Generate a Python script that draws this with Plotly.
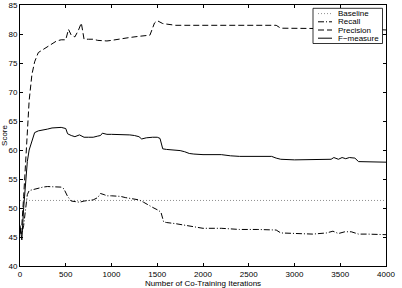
import plotly.graph_objects as go

# ---- data ----
baseline_x = [0, 4000]
baseline_y = [51.3, 51.3]

prec_x = [0, 20, 40, 60, 80, 100, 130, 160, 200, 250, 300, 350, 400, 450, 500, 530, 560, 600, 640, 670,
          700, 750, 800, 850, 900, 950, 1000, 1100, 1200, 1300, 1400, 1420, 1470, 1500, 1560, 1650, 1700,
          1800, 2000, 2200, 2400, 2600, 2800, 2850, 3000, 3200, 3400, 3600, 3800, 4000]
prec_y = [45.5, 47, 52, 58, 64, 68.5, 73, 75.2, 76.8, 77.3, 77.8, 78.3, 78.8, 79, 79, 80.8, 79.8, 79.5, 80.7, 81.9,
          79.1, 79.1, 79.1, 78.9, 78.8, 78.8, 78.9, 79.2, 79.4, 79.6, 79.7, 79.8, 81.9, 82.3, 81.8, 81.6, 81.5,
          81.5, 81.5, 81.5, 81.5, 81.5, 81.5, 81.0, 81.0, 81.0, 80.9, 80.9, 80.8, 80.7]

rec_x = [0, 20, 40, 60, 80, 100, 150, 200, 250, 300, 350, 400, 450, 480, 520, 560, 600, 650, 700, 750,
         800, 850, 880, 920, 950, 1000, 1050, 1100, 1150, 1200, 1250, 1300, 1350, 1400, 1450, 1500, 1540,
         1570, 1600, 1700, 1800, 1900, 2000, 2200, 2400, 2600, 2800, 2850, 3000, 3200, 3350, 3420, 3480,
         3550, 3620, 3700, 3800, 4000]
rec_y = [46.5, 45.5, 47, 50, 52.3, 53, 53.2, 53.5, 53.6, 53.7, 53.7, 53.7, 53.6, 53.3, 52, 51.2, 51.1, 51.0,
         51.2, 51.3, 51.4, 51.8, 52.5, 52.3, 52.1, 52.1, 52.1, 52.0, 51.8, 51.7, 51.6, 51.4, 51.0, 50.5, 50.1,
         49.7, 49.3, 47.6, 47.5, 47.3, 47.0, 46.7, 46.5, 46.5, 46.3, 46.3, 46.2, 45.7, 45.6, 45.5, 45.7, 46.0,
         45.6, 45.9, 45.9, 45.5, 45.5, 45.4]

f_x = [0, 20, 40, 60, 80, 100, 130, 160, 200, 250, 300, 350, 400, 450, 500, 520, 560, 600, 650, 700, 750,
       800, 850, 880, 900, 950, 1000, 1100, 1200, 1250, 1300, 1330, 1380, 1450, 1500, 1530, 1560, 1600,
       1700, 1750, 1800, 1850, 1900, 2000, 2200, 2270, 2300, 2400, 2600, 2750, 2800, 2850, 3000, 3200,
       3400, 3430, 3480, 3520, 3560, 3600, 3660, 3700, 3800, 4000]
f_y = [47, 44.5, 50, 55, 58, 60, 61.5, 63.0, 63.3, 63.4, 63.6, 63.8, 63.8, 63.9, 63.7, 62.8, 62.5, 62.3,
       62.6, 62.2, 62.2, 62.2, 62.4, 62.5, 62.9, 62.7, 62.7, 62.7, 62.6, 62.5, 62.3, 61.9, 62.1, 62.2, 62.2,
       62.0, 60.2, 60.1, 60.0, 59.9, 59.7, 59.4, 59.3, 59.2, 59.2, 59.0, 59.0, 58.9, 58.9, 58.9, 58.6, 58.4,
       58.3, 58.3, 58.4, 58.7, 58.4, 58.7, 58.5, 58.7, 58.6, 58.0, 58.0, 57.9]

x_ticks = [0, 500, 1000, 1500, 2000, 2500, 3000, 3500, 4000]
y_ticks = [40, 45, 50, 55, 60, 65, 70, 75, 80, 85]

legend_names = ["Baseline", "Recall", "Precision", "F\u2212measure"]

# ---- styles ----
FONT = "Liberation Sans, Arial, Helvetica, sans-serif"
styles = {
    "Baseline": dict(color="#909090", width=1, dash="1px,2px"),
    "Recall": dict(color="black", width=1, dash="6px,2px,1px,2px"),
    "Precision": dict(color="black", width=1, dash="6px,3px"),
    "F\u2212measure": dict(color="black", width=1, dash="solid"),
}

fig = go.Figure()
series = [(baseline_x, baseline_y), (rec_x, rec_y), (prec_x, prec_y), (f_x, f_y)]
for name, (xs, ys) in zip(legend_names, series):
    fig.add_trace(go.Scatter(x=xs, y=ys, mode="lines", name=name, line=styles[name],
                             showlegend=False))

L, R, T, B = 20, 16, 5, 22
W, H = 402, 288
pw, ph = W - L - R, H - T - B

def px2paper_x(px):
    return (px - L) / pw

def px2paper_y(py):
    return (H - B - py) / ph

# custom compact legend (box, samples, labels)
shapes = [dict(type="rect", xref="paper", yref="paper",
               x0=px2paper_x(313), x1=px2paper_x(382.5),
               y0=px2paper_y(43.5), y1=px2paper_y(8.3),
               fillcolor="white", line=dict(color="black", width=0.8), layer="above")]
annotations = []
entry_py = [13.6, 21.8, 30.0, 38.2]
for name, py in zip(legend_names, entry_py):
    st = styles[name]
    shapes.append(dict(type="line", xref="paper", yref="paper",
                       x0=px2paper_x(318), x1=px2paper_x(332),
                       y0=px2paper_y(py), y1=px2paper_y(py),
                       line=dict(color=st["color"], width=st["width"], dash=st["dash"]),
                       layer="above"))
    annotations.append(dict(text=name, xref="paper", yref="paper",
                            x=px2paper_x(335.5), y=px2paper_y(py),
                            xanchor="left", yanchor="middle", showarrow=False,
                            font=dict(family=FONT, size=8, color="black")))

fig.update_layout(
    width=W, height=H,
    margin=dict(l=L, r=R, t=T, b=B, pad=0),
    paper_bgcolor="white", plot_bgcolor="white",
    font=dict(family=FONT, size=8, color="black"),
    shapes=shapes, annotations=annotations,
    showlegend=False,
)
fig.update_xaxes(range=[0, 4000], tickvals=x_ticks, ticks="inside", ticklen=3, tickwidth=0.8,
                 tickcolor="black", showline=True, linecolor="black", linewidth=1, mirror="ticks",
                 showgrid=False, zeroline=False, automargin=False,
                 tickfont=dict(family=FONT, size=8),
                 title=dict(text="Number of Co-Training Iterations", font=dict(family=FONT, size=8),
                            standoff=2))
fig.update_yaxes(range=[40, 85], tickvals=y_ticks, ticks="inside", ticklen=3, tickwidth=0.8,
                 tickcolor="black", showline=True, linecolor="black", linewidth=1, mirror="ticks",
                 showgrid=False, zeroline=False, automargin=False,
                 tickfont=dict(family=FONT, size=8),
                 title=dict(text="Score", font=dict(family=FONT, size=8), standoff=1))

fig.write_html("out.html")
